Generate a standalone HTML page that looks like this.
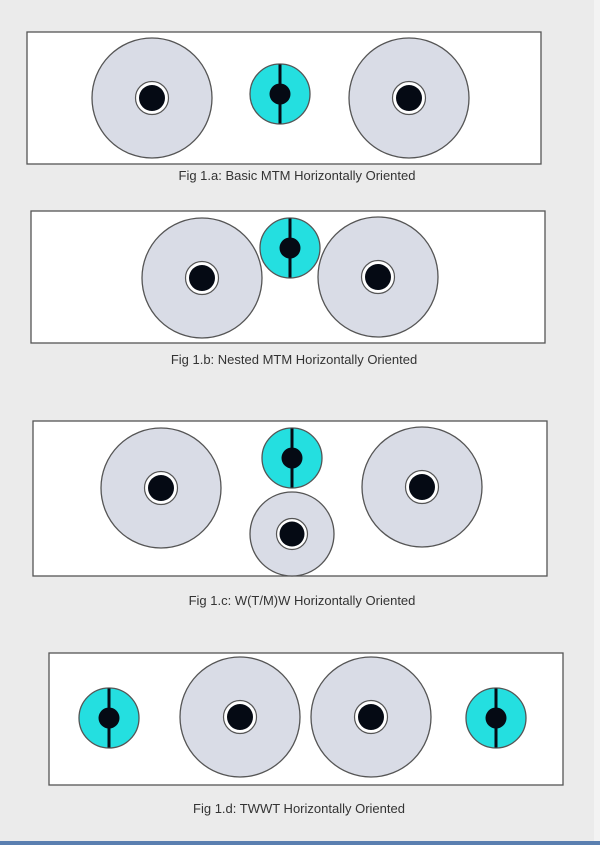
<!DOCTYPE html>
<html><head><meta charset="utf-8"><style>
html,body{margin:0;padding:0;background:#ebebeb;}
svg{display:block}
text{font-family:"Liberation Sans",Arial,sans-serif;font-size:13px;fill:#333;}
</style></head><body>
<svg width="600" height="845" viewBox="0 0 600 845" xmlns="http://www.w3.org/2000/svg">
<defs>
<g id="W">
 <circle r="60" fill="#d9dce6" stroke="#555" stroke-width="1.3"/>
 <circle r="16.5" fill="#fff" stroke="#555" stroke-width="1.2"/>
 <circle r="13" fill="#050a14"/>
</g>
<g id="Ws">
 <circle r="42" fill="#d9dce6" stroke="#555" stroke-width="1.3"/>
 <circle r="15.5" fill="#fff" stroke="#555" stroke-width="1.2"/>
 <circle r="12.5" fill="#050a14"/>
</g>
<g id="T">
 <circle r="30" fill="#24dfe0" stroke="#555" stroke-width="1.3"/>
 <line x1="0" y1="-29.5" x2="0" y2="29.5" stroke="#050a14" stroke-width="3"/>
 <circle r="10.5" fill="#050a14"/>
</g>
</defs>
<rect x="0" y="0" width="600" height="845" fill="#ebebeb"/>
<rect x="594" y="0" width="6" height="845" fill="#f3f3f3"/>
<rect x="0" y="841" width="600" height="4" fill="#5a7fb0"/>

<!-- Fig a -->
<rect x="27" y="32" width="514" height="132" fill="#fff" stroke="#555" stroke-width="1.3"/>
<use href="#W" x="152" y="98"/>
<use href="#T" x="280" y="94"/>
<use href="#W" x="409" y="98"/>
<text x="297" y="180" text-anchor="middle">Fig 1.a: Basic MTM Horizontally Oriented</text>

<!-- Fig b -->
<rect x="31" y="211" width="514" height="132" fill="#fff" stroke="#555" stroke-width="1.3"/>
<use href="#W" x="202" y="278"/>
<use href="#T" x="290" y="248"/>
<use href="#W" x="378" y="277"/>
<text x="294" y="364" text-anchor="middle">Fig 1.b: Nested MTM Horizontally Oriented</text>

<!-- Fig c -->
<rect x="33" y="421" width="514" height="155" fill="#fff" stroke="#555" stroke-width="1.3"/>
<use href="#W" x="161" y="488"/>
<use href="#T" x="292" y="458"/>
<use href="#Ws" x="292" y="534"/>
<use href="#W" x="422" y="487"/>
<text x="302" y="605" text-anchor="middle">Fig 1.c: W(T/M)W Horizontally Oriented</text>

<!-- Fig d -->
<rect x="49" y="653" width="514" height="132" fill="#fff" stroke="#555" stroke-width="1.3"/>
<use href="#T" x="109" y="718"/>
<use href="#W" x="240" y="717"/>
<use href="#W" x="371" y="717"/>
<use href="#T" x="496" y="718"/>
<text x="299" y="813" text-anchor="middle">Fig 1.d: TWWT Horizontally Oriented</text>
</svg>
</body></html>
